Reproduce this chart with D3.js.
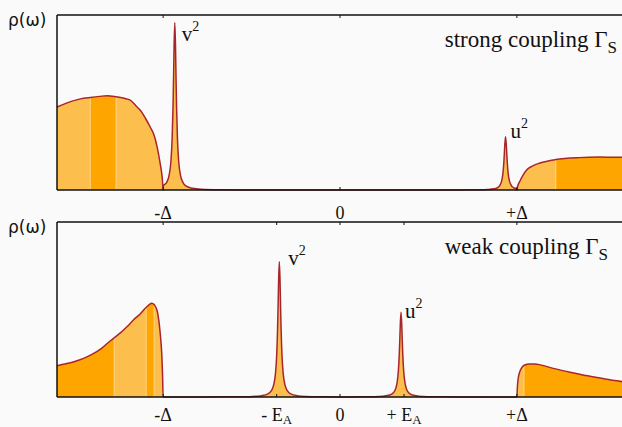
<!DOCTYPE html>
<html><head><meta charset="utf-8">
<script src="https://cdn.jsdelivr.net/npm/d3@7"></script>
<style>html,body{margin:0;padding:0;background:#fafafa;} svg{display:block}</style>
</head><body><svg id="c" width="622" height="427"></svg>
<script>
// ---------- data (ω in units of Δ, ρ as fraction of panel height) ----------
const strongOmega = [
 -1.6,-1.55,-1.5,-1.45,-1.412,-1.36,-1.316,-1.266,-1.22,-1.186,-1.15,-1.13,-1.1,-1.073,-1.05,-1.034,-1.017,-1.008,-1.004,-1.0,
 -0.999,-0.979,-0.966,-0.956,-0.949,-0.944,-0.941,-0.938,-0.934,-0.930,-0.927,-0.924,-0.919,-0.912,-0.902,-0.889,-0.869,-0.834,-0.784,-0.684,-0.534,
 0,
 0.536,0.686,0.786,0.836,0.871,0.891,0.904,0.914,0.921,0.926,0.929,0.932,0.936,0.940,0.943,0.946,0.951,0.958,0.968,0.981,0.999,
 1.0,1.004,1.017,1.035,1.055,1.09,1.13,1.22,1.35,1.47,1.6];
const strongRho = [
 0.474,0.495,0.512,0.524,0.529,0.535,0.539,0.533,0.524,0.514,0.477,0.457,0.41,0.36,0.31,0.246,0.154,0.095,0.057,0,
 0.022,0.045,0.085,0.163,0.294,0.478,0.641,0.824,0.956,0.824,0.641,0.478,0.294,0.163,0.085,0.045,0.022,0.0095,0.0042,0.0015,0.0006,
 0,
 0.0002,0.0005,0.0013,0.003,0.007,0.014,0.027,0.052,0.094,0.153,0.205,0.263,0.305,0.263,0.205,0.153,0.094,0.052,0.027,0.014,0.007,
 0,0.02,0.05,0.085,0.114,0.138,0.154,0.174,0.185,0.188,0.187];

const weakOmega = [
 -1.6,-1.55,-1.5,-1.45,-1.4,-1.35,-1.3,-1.275,-1.2,-1.168,-1.13,-1.098,-1.08,-1.064,-1.05,-1.04,-1.036,-1.027,-1.017,-1.007,-1.003,-1.0,
 -0.9,
 -0.743,-0.593,-0.493,-0.443,-0.408,-0.388,-0.375,-0.365,-0.358,-0.353,-0.35,-0.347,-0.343,-0.339,-0.336,-0.333,-0.328,-0.321,-0.311,-0.298,-0.278,-0.243,-0.193,-0.093,
 0,
 0.095,0.195,0.245,0.28,0.3,0.313,0.323,0.33,0.335,0.338,0.341,0.345,0.349,0.352,0.355,0.36,0.367,0.377,0.39,0.41,0.445,0.495,0.595,
 0.9,
 1.0,1.003,1.008,1.015,1.027,1.045,1.07,1.1,1.2,1.3,1.4,1.5,1.6];
const weakRho = [
 0.179,0.19,0.203,0.221,0.245,0.277,0.32,0.339,0.406,0.44,0.474,0.51,0.526,0.536,0.527,0.51,0.5,0.457,0.37,0.23,0.12,0,
 0,
 0.0005,0.0012,0.0034,0.0077,0.018,0.036,0.069,0.132,0.238,0.387,0.519,0.666,0.773,0.666,0.519,0.387,0.238,0.132,0.069,0.036,0.018,0.0077,0.0034,0.0012,
 0,
 0.0008,0.0021,0.0048,0.011,0.023,0.043,0.083,0.149,0.242,0.325,0.417,0.484,0.417,0.325,0.242,0.149,0.083,0.043,0.023,0.011,0.0048,0.0021,0.0008,
 0,
 0,0.06,0.11,0.14,0.167,0.183,0.189,0.189,0.165,0.142,0.121,0.103,0.087];

// shading bands: [from ω, to ω, shade index]
const strongBands = [[-1.6,-1.412,0],[-1.412,-1.266,1],[-1.266,1.22,0],[1.22,1.6,1]];
const weakBands = [[-1.6,-1.277,1],[-1.277,-1.096,0],[-1.096,-1.051,1],[-1.051,1.04,0],[1.04,1.6,1]];

const strongTicks = [-1, 0, 1];
const strongTickLabels = [["-Δ",""], ["0",""], ["+Δ",""]];
const weakTicks = [-1, -0.358, 0, 0.362, 1];
const weakTickLabels = [["-Δ",""], ["- E","A"], ["0",""], ["+ E","A"], ["+Δ",""]];

const strongPeaks = [[-0.934, 0.956, "v"], [0.936, 0.305, "u"]];
const weakPeaks = [[-0.343, 0.773, "v"], [0.345, 0.484, "u"]];

const titles = ["strong coupling Γ", "weak coupling Γ"];

// ---------- drawing ----------
const shades = ["#fcbf4e", "#ffa500"];
const lineColor = "#a8262b";
const serif = "'Liberation Serif','Times New Roman',serif";
const sans = "'DejaVu Sans',sans-serif";

const svg = d3.select("#c");
svg.append("rect").attr("width",622).attr("height",427).attr("fill","#fafafa");

const x = d3.scaleLinear().domain([-1.6, 1.6]).range([57, 623]);

const panels = [
  {omega: strongOmega, rho: strongRho, bands: strongBands, ticks: strongTicks, labels: strongTickLabels,
   top: 15, bottom: 190, labelBase: 219, peaks: strongPeaks, peakOff: [[7, 18], [5, 1]],
   title: titles[0], titleRight: 617, id: "s"},
  {omega: weakOmega, rho: weakRho, bands: weakBands, ticks: weakTicks, labels: weakTickLabels,
   top: 222, bottom: 397, labelBase: 421, peaks: weakPeaks, peakOff: [[9, 3], [4, 6]],
   title: titles[1], titleRight: 608, id: "w"}
];

panels.forEach((p, pi) => {
  const y = d3.scaleLinear().domain([0, 1]).range([p.bottom, p.top]);
  const pts = p.omega.map((o, i) => [o, p.rho[i]]);
  const area = d3.area().x(d => x(d[0])).y0(y(0)).y1(d => y(d[1])).curve(d3.curveMonotoneX);
  const line = d3.line().x(d => x(d[0])).y(d => y(d[1])).curve(d3.curveMonotoneX);
  const g = svg.append("g");
  p.bands.forEach((b, bi) => {
    const cid = "clip" + p.id + bi;
    svg.append("clipPath").attr("id", cid).append("rect")
      .attr("x", x(b[0])).attr("y", p.top - 5).attr("width", x(b[1]) - x(b[0])).attr("height", p.bottom - p.top + 10);
    g.append("path").datum(pts).attr("d", area).attr("fill", shades[b[2]]).attr("clip-path", `url(#${cid})`);
  });
  const acid = "aclip" + p.id;
  svg.append("clipPath").attr("id", acid).append("path").datum(pts).attr("d", area);
  p.bands.slice(1).forEach(b => {
    g.append("line").attr("x1", x(b[0])).attr("x2", x(b[0])).attr("y1", p.top).attr("y2", p.bottom)
      .attr("stroke", "#ffd47e").attr("stroke-width", 1).attr("clip-path", `url(#${acid})`);
  });
  g.append("path").datum(pts).attr("d", line).attr("fill", "none").attr("stroke", lineColor).attr("stroke-width", 1.5);

  // frame
  const fr = svg.append("g").attr("stroke", "#111").attr("stroke-width", 1.5).attr("fill", "none");
  fr.append("line").attr("x1", 57).attr("x2", 623).attr("y1", p.top).attr("y2", p.top);
  fr.append("line").attr("x1", 57).attr("x2", 623).attr("y1", p.bottom).attr("y2", p.bottom);
  fr.append("line").attr("x1", 57).attr("x2", 57).attr("y1", p.top).attr("y2", p.bottom);
  p.ticks.forEach(t => {
    fr.append("line").attr("x1", x(t)).attr("x2", x(t)).attr("y1", p.top).attr("y2", p.top + 3).attr("stroke-width", 1);
    fr.append("line").attr("x1", x(t)).attr("x2", x(t)).attr("y1", p.bottom).attr("y2", p.bottom - 3).attr("stroke-width", 1);
  });

  // tick labels
  const tl = svg.append("g").attr("font-family", serif).attr("font-size", 18).attr("fill", "#111");
  p.ticks.forEach((t, i) => {
    const lab = p.labels[i];
    const txt = tl.append("text").attr("x", x(t)).attr("y", p.labelBase).attr("text-anchor", "middle");
    txt.append("tspan").text(lab[0]);
    if (lab[1]) txt.append("tspan").attr("dy", 3).attr("font-size", 13).text(lab[1]);
  });

  // y label
  svg.append("text").attr("x", 8).attr("y", p.top + 11).attr("font-family", sans).attr("font-size", 17)
    .attr("fill", "#111").text("ρ(ω)");

  // title
  const tt = svg.append("text").attr("x", p.titleRight).attr("y", p.top + 32).attr("text-anchor", "end")
    .attr("font-family", serif).attr("font-size", 23).attr("fill", "#111");
  tt.append("tspan").text(p.title);
  tt.append("tspan").attr("dy", 6).attr("font-size", 17).text("S");

  // peak labels
  p.peaks.forEach((pk, k) => {
    const t = svg.append("text").attr("x", x(pk[0]) + p.peakOff[k][0]).attr("y", y(pk[1]) + p.peakOff[k][1])
      .attr("font-family", serif).attr("font-size", 21).attr("fill", "#111");
    t.append("tspan").text(pk[2]);
    t.append("tspan").attr("dy", -10).attr("font-size", 14).text("2");
  });
});
</script></body></html>
